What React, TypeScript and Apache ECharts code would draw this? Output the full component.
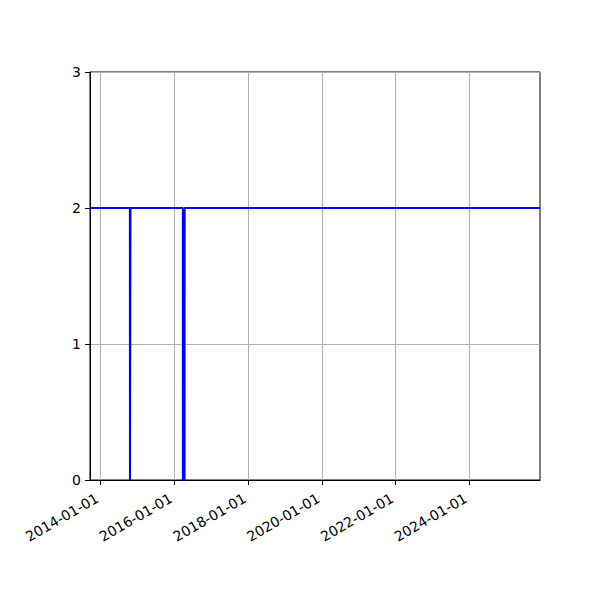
import React, { useEffect, useRef } from 'react';
import * as echarts from 'echarts';

// sample dates and values of the step line
const dates: string[] = [
    '2013-09-17', '2014-10-17', '2014-10-18', '2014-10-22', '2014-10-23',
    '2016-03-25', '2016-03-26', '2016-04-11', '2016-04-12', '2025-12-02',
];
const values: number[] = [2, 2, 0, 0, 2, 2, 0, 0, 2, 2];

const xTickDates: string[] = ['2014-01-01', '2016-01-01', '2018-01-01', '2020-01-01', '2022-01-01', '2024-01-01'];
const xMinDate = '2013-09-17';
const xMaxDate = '2025-12-02';
const yTicks: number[] = [0, 1, 2, 3];

const toTime = (s: string) => {
    const [y, m, d] = s.split('-').map(Number);
    return new Date(y, m - 1, d).getTime();
};

const pad = (n: number) => (n < 10 ? '0' + n : '' + n);

const App: React.FC = () => {
    const chartRef = useRef<HTMLDivElement>(null);

    useEffect(() => {
        const chartDom = chartRef.current!;
        const myChart = echarts.init(chartDom, undefined, { renderer: 'svg' });

        const font = { fontFamily: 'DejaVu Sans', fontSize: 14, color: '#000' };
        const tickTimes = xTickDates.map(toTime);

        const option: echarts.EChartsOption = {
            animation: false,
            backgroundColor: '#fff',
            grid: {
                left: 90, right: 60, top: 72, bottom: 120,
                show: true, borderColor: '#000', borderWidth: 1,
            },
            xAxis: {
                type: 'value',
                min: toTime(xMinDate),
                max: toTime(xMaxDate),
                axisLine: { show: true, onZero: false, lineStyle: { color: '#000', width: 1 } },
                axisTick: {
                    show: true,
                    inside: false,
                    length: 5,
                    lineStyle: { color: '#000', width: 1 },
                    customValues: tickTimes,
                } as any,
                axisLabel: {
                    ...font,
                    rotate: 30,
                    margin: 15,
                    padding: [0, 4, 0, 0],
                    customValues: tickTimes,
                    formatter: (v: number) => {
                        const d = new Date(v);
                        return d.getFullYear() + '-' + pad(d.getMonth() + 1) + '-' + pad(d.getDate());
                    },
                } as any,
                splitLine: { show: true, lineStyle: { color: '#b0b0b0', width: 1 } },
            },
            yAxis: {
                type: 'value',
                min: yTicks[0],
                max: yTicks[yTicks.length - 1],
                interval: 1,
                axisLine: { show: true, lineStyle: { color: '#000', width: 1 } },
                axisTick: { show: true, inside: false, length: 5, lineStyle: { color: '#000' } },
                axisLabel: { ...font, margin: 9 },
                splitLine: { show: true, lineStyle: { color: '#b0b0b0', width: 1 } },
            },
            series: [
                {
                    type: 'line',
                    data: dates.map((d, i) => [toTime(d), values[i]]),
                    showSymbol: false,
                    symbol: 'none',
                    lineStyle: { color: '#0000ff', width: 2 },
                    z: 5,
                },
            ],
        };

        myChart.setOption(option);

        return () => {
            myChart.dispose();
        };
    }, []);

    return (
        <div
            ref={chartRef}
            style={{ position: 'fixed', left: 0, top: 0, width: 600, height: 600 }}
        />
    );
};

export default App;
